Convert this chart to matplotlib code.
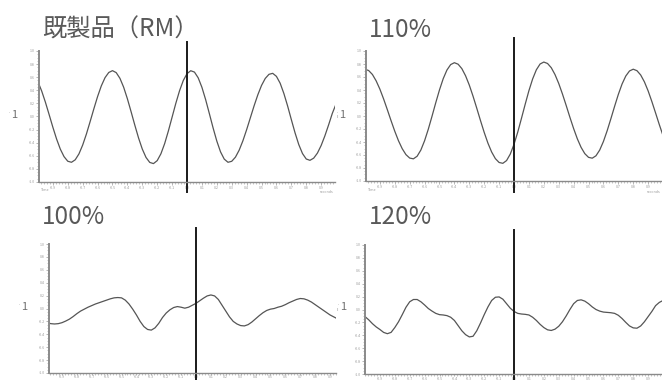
import numpy as np
import matplotlib
matplotlib.use("Agg")
import matplotlib.pyplot as plt
import matplotlib.transforms as mtransforms
from matplotlib.ticker import MultipleLocator, FixedLocator

plt.rcParams['font.family'] = ['Noto Sans CJK JP', 'DejaVu Sans']

# ---------------- data ----------------
titles = ["既製品（RM）", "110%", "100%", "120%"]
time = np.round(np.arange(-1.0, 1.0001, 0.025), 3)

sig_rm = [0.530, 0.389, 0.218, 0.029, -0.164, -0.344, -0.498, -0.613, -0.683,
          -0.699, -0.661, -0.571, -0.436, -0.268, -0.078, 0.117, 0.304, 0.467,
          0.593, 0.672, 0.700, 0.670, 0.583, 0.447, 0.271, 0.072, -0.133, -0.328,
          -0.497, -0.625, -0.701, -0.719, -0.674, -0.569, -0.414, -0.221, -0.010,
          0.201, 0.393, 0.549, 0.654, 0.699, 0.678, 0.591, 0.446, 0.258, 0.044,
          -0.174, -0.375, -0.540, -0.651, -0.699, -0.684, -0.621, -0.514, -0.371,
          -0.202, -0.020, 0.162, 0.330, 0.474, 0.581, 0.644, 0.659, 0.613, 0.508,
          0.351, 0.161, -0.047, -0.250, -0.429, -0.566, -0.649, -0.669, -0.636,
          -0.559, -0.443, -0.296, -0.129, 0.048, 0.190]

sig_110 = [0.720, 0.699, 0.639, 0.541, 0.414, 0.263, 0.098, -0.071, -0.234,
           -0.381, -0.503, -0.594, -0.647, -0.659, -0.619, -0.524, -0.381, -0.203,
           -0.003, 0.204, 0.401, 0.574, 0.707, 0.791, 0.820, 0.797, 0.729, 0.619,
           0.476, 0.306, 0.121, -0.069, -0.252, -0.417, -0.554, -0.656, -0.715,
           -0.728, -0.686, -0.586, -0.436, -0.249, -0.037, 0.180, 0.389, 0.570,
           0.711, 0.800, 0.830, 0.808, 0.743, 0.638, 0.501, 0.339, 0.163, -0.019,
           -0.193, -0.351, -0.482, -0.579, -0.636, -0.649, -0.612, -0.524, -0.392,
           -0.227, -0.042, 0.149, 0.332, 0.492, 0.615, 0.693, 0.720, 0.697, 0.631,
           0.525, 0.386, 0.222, 0.046, -0.133, -0.302]

sig_100 = [-0.22, -0.235, -0.24, -0.235, -0.22, -0.195, -0.165, -0.125, -0.08,
           -0.04, -0.01, 0.02, 0.045, 0.07, 0.09, 0.11, 0.13, 0.15, 0.165, 0.17,
           0.165, 0.13, 0.07, -0.01, -0.10, -0.20, -0.28, -0.325, -0.335, -0.30,
           -0.23, -0.14, -0.07, -0.02, 0.015, 0.03, 0.02, 0.005, 0.02, 0.05, 0.08,
           0.12, 0.16, 0.195, 0.21, 0.195, 0.14, 0.05, -0.04, -0.13, -0.20, -0.24,
           -0.265, -0.27, -0.25, -0.21, -0.16, -0.11, -0.065, -0.03, -0.01, 0.00,
           0.02, 0.035, 0.06, 0.09, 0.115, 0.14, 0.155, 0.15, 0.13, 0.10, 0.06,
           0.02, -0.02, -0.06, -0.10, -0.13, -0.16, -0.19, -0.22]

sig_120 = [-0.11, -0.16, -0.22, -0.27, -0.31, -0.355, -0.375, -0.355, -0.28,
           -0.19, -0.08, 0.035, 0.12, 0.155, 0.155, 0.12, 0.07, 0.015, -0.025,
           -0.06, -0.08, -0.085, -0.095, -0.12, -0.17, -0.25, -0.33, -0.39, -0.425,
           -0.415, -0.33, -0.21, -0.08, 0.04, 0.14, 0.19, 0.195, 0.16, 0.09, 0.02,
           -0.03, -0.06, -0.07, -0.075, -0.085, -0.12, -0.17, -0.23, -0.28, -0.315,
           -0.325, -0.305, -0.26, -0.19, -0.10, 0.00, 0.09, 0.14, 0.15, 0.13, 0.09,
           0.04, 0.00, -0.025, -0.04, -0.045, -0.05, -0.06, -0.09, -0.14, -0.20,
           -0.255, -0.285, -0.29, -0.255, -0.19, -0.11, -0.03, 0.06, 0.11, 0.14]

signals = [sig_rm, sig_110, sig_100, sig_120]
yticks = [-1.0, -0.8, -0.6, -0.4, -0.2, 0.0, 0.2, 0.4, 0.6, 0.8, 1.0]
xticks = [-0.9, -0.8, -0.7, -0.6, -0.5, -0.4, -0.3, -0.2, -0.1, 0.0,
          0.1, 0.2, 0.3, 0.4, 0.5, 0.6, 0.7, 0.8, 0.9]

# ---------------- layout (pixels) ----------------
W, H = 662, 380
# left, right, top, bottom (px), xlim
boxes = [(39, 335, 51, 182, (-0.993, 0.993)),
         (366, 662, 51, 181, (-0.993, 0.993)),
         (49, 336, 244, 373, (-0.987, 0.940)),
         (365, 662, 245, 374, (-1.000, 0.993))]
vline_px = [(42, 192), (38, 192), (228, 380), (230, 380)]
title_pos = [(42, 37), (369, 37), (42, 224), (369, 224)]
ylab_pos = [(14, 118), (342, 118), (24, 310), (343, 310)]

fig = plt.figure(figsize=(W / 100, H / 100), dpi=100)
fig.patch.set_facecolor('white')

tick_col = '#9a9a9a'
for i in range(4):
    l, r, t, b, xl = boxes[i]
    ax = fig.add_axes([l / W, 1 - b / H, (r - l) / W, (b - t) / H])
    ax.plot(time, signals[i], color='#555555', lw=0.9, solid_capstyle='round')
    ax.set_xlim(*xl)
    ax.set_ylim(-1.0, 1.0)
    for s in ['top', 'right']:
        ax.spines[s].set_visible(False)
    ax.spines['left'].set_color('#8a8a8a')
    ax.spines['left'].set_linewidth(1.4)
    ax.spines['bottom'].set_color('#8a8a8a')
    ax.spines['bottom'].set_linewidth(1.0)
    ax.xaxis.set_major_locator(FixedLocator(xticks))
    ax.xaxis.set_minor_locator(MultipleLocator(0.02))
    ax.yaxis.set_major_locator(FixedLocator(yticks))
    ax.yaxis.set_minor_locator(MultipleLocator(0.05))
    ax.set_xticklabels([f"{v:.1f}" for v in xticks])
    ax.set_yticklabels([f"{v:.1f}" for v in yticks])
    ax.tick_params(which='major', length=2, width=0.5, colors=tick_col,
                   labelsize=2.6, pad=1.0)
    ax.tick_params(which='minor', length=1.2, width=0.4, colors=tick_col)
    if i >= 2:
        ax.tick_params(axis='x', which='major', length=1.5, pad=0.3)
    ax.set_facecolor('none')

    # vertical marker line at t = 0
    trans = mtransforms.blended_transform_factory(ax.transData, fig.transFigure)
    y0, y1 = vline_px[i]
    ax.plot([0, 0], [1 - y1 / H, 1 - y0 / H], transform=trans, color='#1a1a1a',
            lw=1.4, clip_on=False)

    # titles
    tx, ty = title_pos[i]
    fig.text(tx / W, 1 - ty / H, titles[i], fontsize=17.5, color='#595959',
             ha='left', va='baseline')

    # channel label
    lx, ly = ylab_pos[i]
    fig.text(lx / W, 1 - ly / H, "1", fontsize=8, color='#6f6f6f',
             ha='center', va='baseline')
    fig.text((lx - 5) / W, 1 - (ly - 4) / H, "·", fontsize=4, color='#9a9a9a',
             ha='center', va='baseline')

    if i < 2:
        fig.text((l + 6) / W, 1 - 191 / H, "Time", fontsize=2.6, color=tick_col,
                 ha='center', va='baseline')
        fig.text((r - 8) / W, 1 - 193 / H, "seconds", fontsize=2.6,
                 color=tick_col, ha='center', va='baseline')

# small right-hand markers
fig.text(337 / W, 1 - 118 / H, "ı", fontsize=4, color='#9a9a9a', ha='center')
fig.text(337 / W, 1 - 311 / H, "ı", fontsize=4, color='#9a9a9a', ha='center')

fig.savefig("out.png", dpi=100, facecolor='white')
